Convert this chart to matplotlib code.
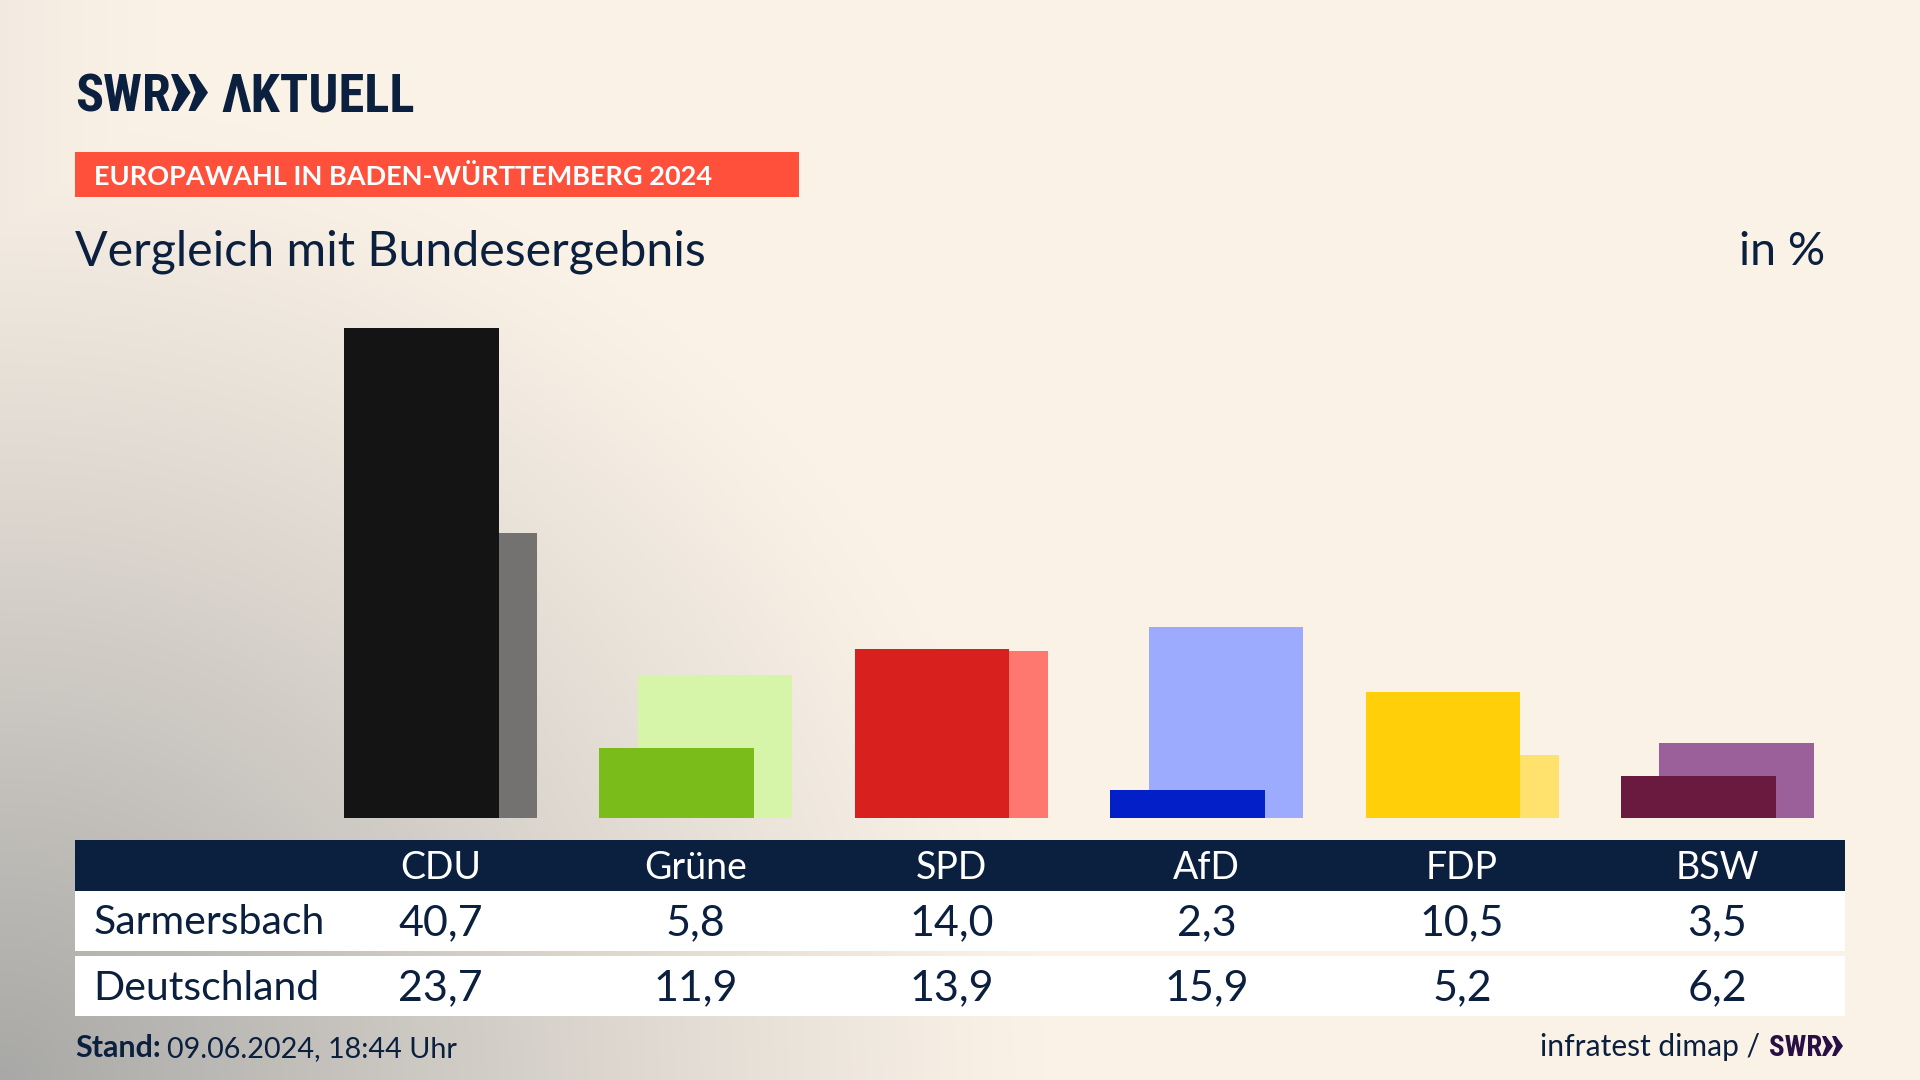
import numpy as np
import matplotlib
matplotlib.use("Agg")
import matplotlib.pyplot as plt
from matplotlib.patches import Rectangle, Polygon

parties = ["CDU", "Grüne", "SPD", "AfD", "FDP", "BSW"]
sarmersbach = [40.7, 5.8, 14.0, 2.3, 10.5, 3.5]
deutschland = [23.7, 11.9, 13.9, 15.9, 5.2, 6.2]
front_colors = ["#141414", "#7ABD1A", "#D8201F", "#0320C8", "#FFCF0A", "#6A193F"]
back_colors = ["#737270", "#D7F5A8", "#FF7870", "#9DABFF", "#FFE26E", "#9B5F99"]
row_names = ["Sarmersbach", "Deutschland"]
NAVY = "#0B203F"
W, H = 1920, 1080
FONT = "Lato"
LOGO = ["Roboto Condensed", "Saira SemiCondensed", "DejaVu Sans"]

def fmt(v):
    return f"{v:.1f}".replace(".", ",")

fig = plt.figure(figsize=(19.2, 10.8), dpi=100)

# background
bg = fig.add_axes([0, 0, 1, 1], zorder=0)
yy, xx = np.mgrid[0:H:270j, 0:W:480j]
base = np.array([251, 242, 231]) / 255
gray = np.array([168, 168, 166]) / 255
d = np.sqrt((xx / 1040) ** 2 + ((H - yy) / 980) ** 2)
t = np.clip(1 - d, 0, 1) ** 1.12
t2 = np.clip(1 - xx / 150, 0, 1) * 0.10
t = np.clip(np.maximum(t, t2), 0, 1)
img = base[None, None, :] * (1 - t[..., None]) + gray[None, None, :] * t[..., None]
bg.imshow(img, extent=(0, W, H, 0), aspect="auto", interpolation="bilinear")
bg.set_xlim(0, W); bg.set_ylim(H, 0); bg.axis("off")

# bars
step = 255.4
x0 = 440.5
base_y = 818.0
unit = 12.04
ax = fig.add_axes([0, 0, 1, 1], zorder=1)
ax.patch.set_alpha(0)
ax.set_xlim(-x0 / step, (W - x0) / step)
ax.set_ylim(-(H - base_y) / unit, base_y / unit)
ax.axis("off")
pos = np.arange(len(parties))
bw = 154.5 / step
off = 19.2 / step
ax.bar(pos + off, deutschland, bw, color=back_colors, linewidth=0, zorder=1)
ax.bar(pos - off, sarmersbach, bw, color=front_colors, linewidth=0, zorder=2)

# overlay in pixels
ov = fig.add_axes([0, 0, 1, 1], zorder=2)
ov.patch.set_alpha(0)
ov.set_xlim(0, W); ov.set_ylim(H, 0); ov.axis("off")

def rect(x1, y1, x2, y2, c):
    ov.add_patch(Rectangle((x1, y1), x2 - x1, y2 - y1, fc=c, ec="none"))

def txt(x, y, s, px, c=NAVY, ha="left", weight="normal", family=FONT):
    return ov.text(x, y, s, fontsize=px * 0.72, color=c, ha=ha, va="baseline",
                   fontweight=weight, family=family)

def chevrons(xs, y1, y2, w, notch, c):
    ym = (y1 + y2) / 2
    for cx in xs:
        ov.add_patch(Polygon([(cx, y1), (cx + w * 0.35, y1), (cx + w, ym), (cx + w * 0.35, y2),
                              (cx, y2), (cx + notch, ym)], fc=c, ec="none"))

# logo
txt(75, 111, "SWR", 52, weight="bold", family=LOGO)
chevrons((171, 188.5), 74, 111, 19.5, 7, NAVY)
txt(221, 111, "ΛKTUELL", 52.5, weight="bold", family=LOGO)

rect(75, 152, 799, 197, "#FF503C")
txt(94, 185, "EUROPAWAHL IN BADEN-WÜRTTEMBERG 2024", 27.1, c="white", weight="bold")
txt(75, 265, "Vergleich mit Bundesergebnis", 48.2)
txt(1825, 265, "in %", 46.5, ha="right")

rect(75, 840, 1845, 891, NAVY)
rect(75, 891, 1845, 951, "white")
rect(75, 956, 1845, 1016, "white")
for i, p in enumerate(parties):
    cx = x0 + step * i
    txt(cx, 879, p, 37.5, c="white", ha="center")
    txt(cx, 935, fmt(sarmersbach[i]), 43, ha="center")
    txt(cx, 1000, fmt(deutschland[i]), 43, ha="center")
txt(94, 934, row_names[0], 41)
txt(93, 1000, row_names[1], 41)

txt(75, 1057, "Stand:", 30.5, weight="bold")
txt(167, 1057, "09.06.2024, 18:44 Uhr", 28.7)
txt(1760, 1056, "infratest dimap /", 30, ha="right")
PURPLE = "#2A0F45"
txt(1769, 1056, "SWR", 29, c=PURPLE, weight="bold", family=LOGO)
chevrons((1822, 1832), 1036, 1056, 11, 4, PURPLE)

fig.savefig("out.png", dpi=100)
